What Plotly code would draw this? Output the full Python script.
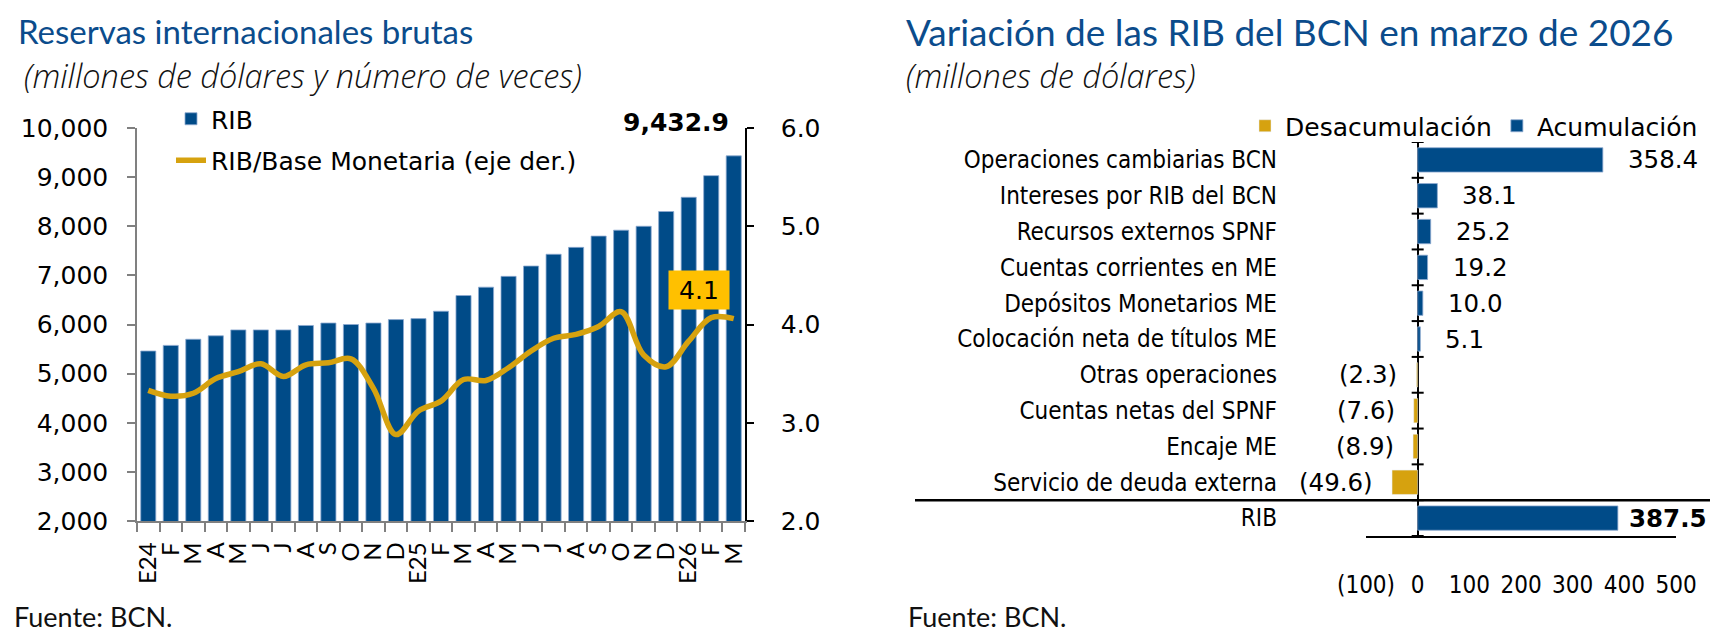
import plotly.graph_objects as go

W, H = 1718, 633

# ---------------- data: left chart ----------------
months = ["E24", "F", "M", "A", "M", "J", "J", "A", "S", "O", "N", "D",
          "E25", "F", "M", "A", "M", "J", "J", "A", "S", "O", "N", "D",
          "E26", "F", "M"]
rib = [5460, 5575, 5700, 5770, 5890, 5890, 5890, 5980, 6030, 6000, 6030, 6100,
       6120, 6270, 6590, 6760, 6980, 7190, 7430, 7570, 7800, 7920, 8000, 8300,
       8590, 9030, 9432.9]
ratio = [3.33, 3.27, 3.30, 3.45, 3.52, 3.60, 3.47, 3.59, 3.61, 3.65, 3.35, 2.88,
         3.12, 3.22, 3.44, 3.43, 3.56, 3.73, 3.86, 3.90, 3.98, 4.13, 3.69, 3.57,
         3.83, 4.07, 4.06]
left_ticks = [2000, 3000, 4000, 5000, 6000, 7000, 8000, 9000, 10000]
right_ticks = [2.0, 3.0, 4.0, 5.0, 6.0]

# ---------------- data: right chart ----------------
items = ["Operaciones cambiarias BCN", "Intereses por RIB del BCN",
         "Recursos externos SPNF", "Cuentas corrientes en ME",
         "Depósitos Monetarios ME", "Colocación neta de títulos ME",
         "Otras operaciones", "Cuentas netas del SPNF", "Encaje ME",
         "Servicio de deuda externa", "RIB"]
values = [358.4, 38.1, 25.2, 19.2, 10.0, 5.1, -2.3, -7.6, -8.9, -49.6, 387.5]
x3_ticks = [-100, 0, 100, 200, 300, 400, 500]

BLUE = "#004B88"
GOLD = "#D6A20F"
TITLE_BLUE = "#0B4C8C"
VERD = "DejaVu Sans, Verdana, sans-serif"
COND = "DejaVu Sans Condensed, Liberation Sans Narrow, DejaVu Sans, sans-serif"
FUT = "Lato, Open Sans, sans-serif"
SUB = "Open Sans, Lato, sans-serif"

def px(v):
    return v / W

def py(v):
    return 1 - v / H

idx = list(range(len(months)))

fig = go.Figure()

fig.add_trace(go.Bar(
    x=idx, y=rib, name="RIB", marker=dict(color=BLUE, line=dict(color="#8DAAD0", width=0.8)),
    width=0.67, xaxis="x", yaxis="y", legend="legend", legendgroup="a",
))
fig.add_trace(go.Scatter(
    x=idx, y=ratio, name="RIB/Base Monetaria (eje der.)", mode="lines",
    line=dict(color=GOLD, width=5.5, shape="spline", smoothing=1.0),
    xaxis="x", yaxis="y2", legend="legend", legendgroup="b",
))

desac = [v if v < 0 else None for v in values]
acum = [v if v >= 0 else None for v in values]
fig.add_trace(go.Bar(
    y=items, x=desac, orientation="h", name="Desacumulación",
    marker=dict(color=GOLD), width=0.68, xaxis="x3", yaxis="y3", legend="legend2",
))
fig.add_trace(go.Bar(
    y=items, x=acum, orientation="h", name="Acumulación",
    marker=dict(color=BLUE, line=dict(color="#8DAAD0", width=0.8)), width=0.68,
    xaxis="x3", yaxis="y3", legend="legend2",
))

annotations = []
# titles
annotations += [
    dict(text="Reservas internacionales brutas", x=px(8), y=py(23), xref="paper", yref="paper",
         xanchor="left", yanchor="middle", showarrow=False,
         font=dict(family=FUT, size=33, color=TITLE_BLUE)),
    dict(text="(millones de dólares y número de veces)", x=px(14), y=py(68), xref="paper",
         yref="paper", xanchor="left", yanchor="middle", showarrow=False,
         font=dict(family=SUB, size=32.5, color="#111111", style="italic", weight=300)),
    dict(text="Variación de las RIB del BCN en marzo de 2026", x=px(896), y=py(23), xref="paper",
         yref="paper", xanchor="left", yanchor="middle", showarrow=False,
         font=dict(family=FUT, size=37, color=TITLE_BLUE)),
    dict(text="(millones de dólares)", x=px(896), y=py(68), xref="paper", yref="paper",
         xanchor="left", yanchor="middle", showarrow=False,
         font=dict(family=SUB, size=32.5, color="#111111", style="italic", weight=300)),
    dict(text="Fuente: BCN.", x=px(4), y=py(608), xref="paper", yref="paper",
         xanchor="left", yanchor="middle", showarrow=False,
         font=dict(family=FUT, size=27, color="#111111")),
    dict(text="Fuente: BCN.", x=px(898), y=py(608), xref="paper", yref="paper",
         xanchor="left", yanchor="middle", showarrow=False,
         font=dict(family=FUT, size=27, color="#111111")),
]
# left chart labels
annotations.append(dict(
    text="<b>{:,.1f}</b>".format(rib[-1]), x=idx[-1], y=rib[-1], xref="x", yref="y",
    xanchor="right", yanchor="bottom", xshift=-3, yshift=17, showarrow=False,
    font=dict(family=VERD, size=25, color="#000000")))
annotations.append(dict(
    text="{:.1f}".format(ratio[-1]), x=idx[-1], y=ratio[-1], xref="x", yref="y2",
    xanchor="right", yanchor="bottom", xshift=-4, yshift=9, showarrow=False,
    bgcolor="#FFC000", width=58, height=36,
    font=dict(family=VERD, size=25, color="#000000")))
# right chart value labels
for name, v in zip(items, values):
    bold = name == "RIB"
    if v >= 0:
        txt = "{:.1f}".format(v)
        anc, sh = "left", (9 if bold else 23)
    else:
        txt = "({:.1f})".format(abs(v))
        anc, sh = "right", -17
    if bold:
        txt = "<b>" + txt + "</b>"
    annotations.append(dict(
        text=txt, x=v, y=name, xref="x3", yref="y3", xanchor=anc, yanchor="middle",
        xshift=sh, showarrow=False, font=dict(family=VERD, size=24.5, color="#000000")))

shapes = []
# cross ticks on the zero line of the right chart
for k in range(len(items) + 1):
    shapes.append(dict(type="line", xref="x3", yref="y3", xsizemode="pixel", xanchor=0,
                       x0=-6, x1=6, y0=k - 0.5, y1=k - 0.5,
                       line=dict(color="#000000", width=2)))
# separator above total
shapes.append(dict(type="line", xref="paper", yref="y3", x0=px(907), x1=px(1712),
                   y0=len(items) - 1.5, y1=len(items) - 1.5,
                   line=dict(color="#000000", width=2.5)))

fig.update_layout(
    width=W, height=H, margin=dict(l=0, r=0, t=0, b=0, pad=0, autoexpand=False),
    paper_bgcolor="white", plot_bgcolor="white",
    barmode="overlay", showlegend=True,
    font=dict(family=VERD, size=24, color="#000000"),
    xaxis=dict(domain=[px(129), px(737)], anchor="y", range=[-0.5, len(months) - 0.5],
               tickmode="array", tickvals=idx, ticktext=months, tickangle=-90,
               ticks="", showline=True, linecolor="#808080", linewidth=1.5,
               showgrid=False, zeroline=False, ticklabelstandoff=10,
               tickfont=dict(family=FUT, size=24, color="#000000"),
               minor=dict(tickmode="array", tickvals=[i - 0.5 for i in range(len(months) + 1)],
                          ticks="outside", ticklen=9, tickcolor="#808080", tickwidth=1.5,
                          showgrid=False)),
    yaxis=dict(domain=[py(513), py(120)], anchor="x", range=[2000, 10000],
               tickmode="array", tickvals=left_ticks, tickformat=",d",
               ticks="outside", ticklen=8, tickcolor="#808080", tickwidth=1.5,
               showline=True, linecolor="#808080", linewidth=1.5, showgrid=False,
               zeroline=False, ticklabelstandoff=14,
               tickfont=dict(family=VERD, size=25, color="#000000")),
    yaxis2=dict(overlaying="y", anchor="x", side="right", range=[2, 6],
                tickmode="array", tickvals=right_ticks, tickformat=".1f",
                ticks="outside", ticklen=7, tickcolor="#000000", tickwidth=1.5,
                showline=True, linecolor="#000000", linewidth=1.5, showgrid=False,
                zeroline=False, ticklabelstandoff=22,
                tickfont=dict(family=VERD, size=25, color="#000000")),
    xaxis3=dict(domain=[px(1358), px(1668)], anchor="y3", range=[-100, 500],
                tickmode="array", tickvals=x3_ticks,
                ticktext=["({})".format(abs(t)) if t < 0 else str(t) for t in x3_ticks],
                ticks="", showline=True, linecolor="#000000", linewidth=2,
                showgrid=False, zeroline=True, zerolinecolor="#000000", zerolinewidth=2,
                ticklabelstandoff=26,
                tickfont=dict(family=COND, size=24, color="#000000")),
    yaxis3=dict(domain=[py(528), py(134)], anchor="x3", type="category",
                categoryorder="array", categoryarray=items,
                range=[len(items) - 0.5, -0.5], ticks="", showline=False,
                showgrid=False, zeroline=False, ticklabelstandoff=88,
                tickfont=dict(family=COND, size=24, color="#000000")),
    legend=dict(x=px(163), y=py(88), xanchor="left", yanchor="top", orientation="v",
                bgcolor="rgba(0,0,0,0)", tracegroupgap=6, traceorder="grouped",
                font=dict(family=VERD, size=25, color="#000000"), itemwidth=30),
    legend2=dict(x=px(1237), y=py(95), xanchor="left", yanchor="top", orientation="h",
                 bgcolor="rgba(0,0,0,0)",
                 font=dict(family=VERD, size=25, color="#000000"), itemwidth=30),
    annotations=annotations, shapes=shapes,
)

fig.write_html("out.html")
